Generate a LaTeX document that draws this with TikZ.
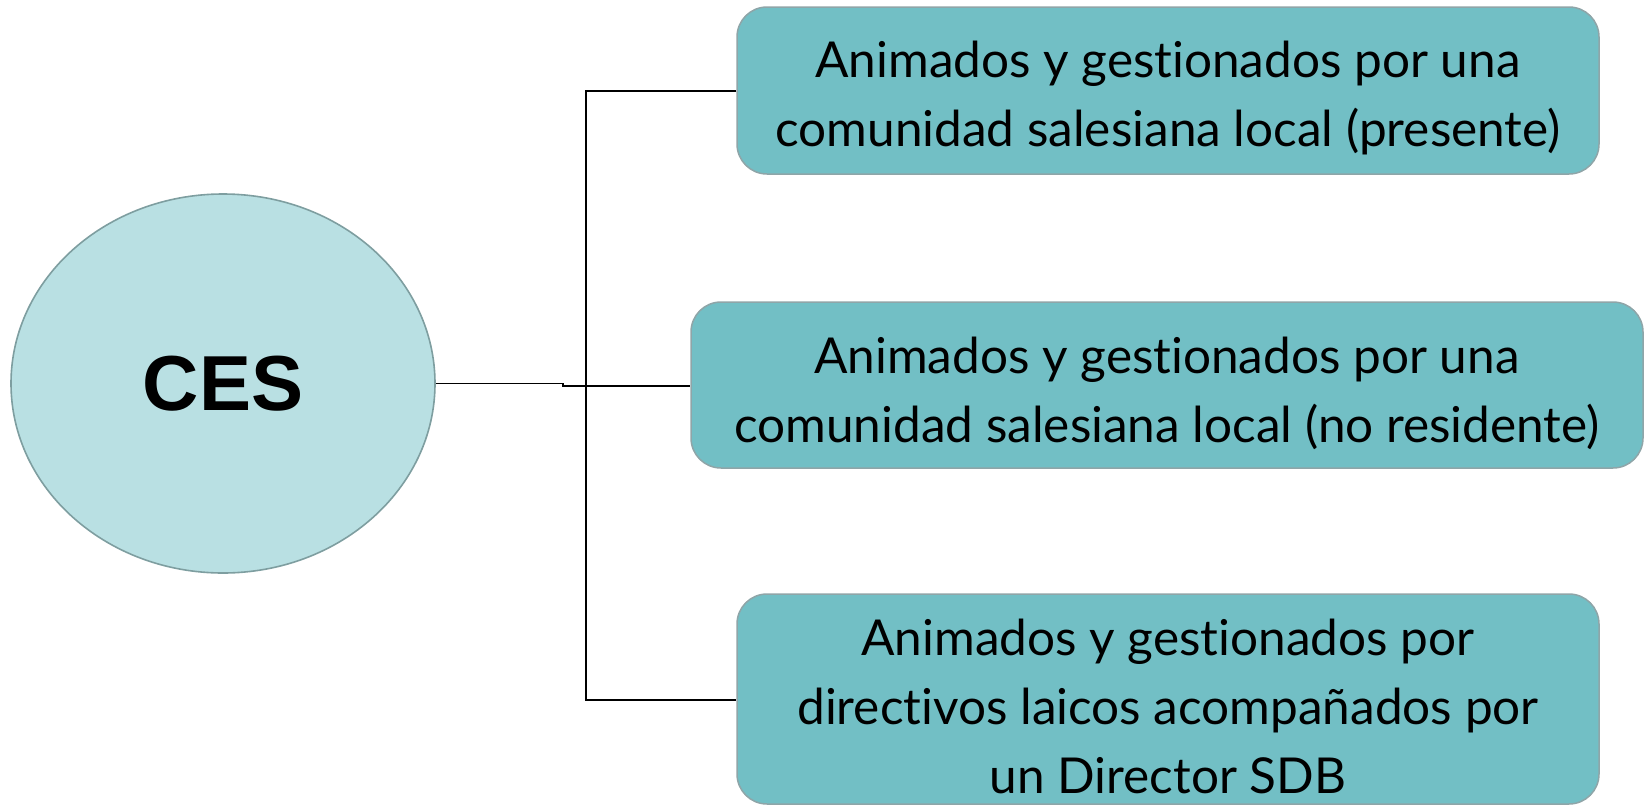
\documentclass[tikz,border=0pt]{standalone}
\usepackage{fontspec}
\setmainfont{Lato}[Ligatures=NoCommon]
\newfontfamily\cesfont{Liberation Sans}
\usetikzlibrary{shapes.geometric}
\definecolor{boxfill}{HTML}{72BFC5}
\definecolor{boxline}{HTML}{8FA5A8}
\definecolor{ellfill}{HTML}{B9E0E3}
\definecolor{ellline}{HTML}{7E9EA0}
\tikzset{
  itembox/.style={draw=boxline, fill=boxfill, line width=1.5pt, rounded corners=30pt, inner sep=0pt},
  itemtext/.style={align=center, inner sep=0pt, font=\fontsize{49.5}{69}\selectfont},
  conn/.style={draw=black, line width=1.2pt}
}
\begin{document}
\begin{tikzpicture}[x=1pt,y=-1pt]
\useasboundingbox (0,0) rectangle (1644,806);
\node[ellipse, draw=ellline, fill=ellfill, line width=1.6pt, minimum width=424pt, minimum height=379pt, inner sep=0pt,
  font=\cesfont\bfseries\fontsize{78}{78}\selectfont] (ces) at (223,383.5) {CES};
\node[itembox, minimum width=862pt, minimum height=167pt] (b1) at (1168,90.5) {};
\node[itembox, minimum width=952pt, minimum height=166pt] (b2) at (1167,385) {};
\node[itembox, minimum width=862pt, minimum height=210pt] (b3) at (1168,699) {};
\node[itemtext] (t1) at ([yshift=-8pt]b1.center)
  {Animados y gestionados por una\\comunidad salesiana local (presente)};
\node[itemtext] (t2) at ([yshift=-8pt]b2.center)
  {Animados y gestionados por una\\comunidad salesiana local (no residente)};
\node[itemtext] (t3) at ([yshift=-7pt]b3.center)
  {Animados y gestionados por\\directivos laicos acompañados por\\un Director SDB};
\coordinate (j) at (563,383.5);
\coordinate (k) at (563,386);
\coordinate (top) at (586,91);
\coordinate (bot) at (586,700);
\draw[conn] (ces.east) -- (j) -- (k) -- (k -| b2.west);
\draw[conn] (b1.west |- top) -- (top) -- (bot) -- (b3.west |- bot);
\end{tikzpicture}
\end{document}
